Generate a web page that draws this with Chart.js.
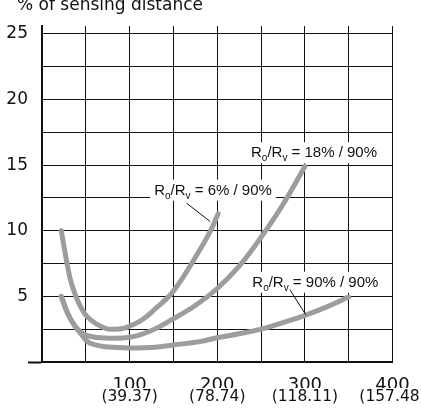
<!DOCTYPE html>
<html>
<head>
<meta charset="utf-8">
<script src="https://cdn.jsdelivr.net/npm/chart.js@4"></script>
<style>
  html, body { margin: 0; padding: 0; background: #fff; overflow: hidden; }
  #wrap { width: 421px; height: 412px; }
</style>
</head>
<body>
<div id="wrap"><canvas id="grafico"></canvas></div>
<script>
// curvas (x = distancia em mm, y = % da distancia de deteccao)
const curva6X = [22, 30, 34, 43, 53, 72, 85, 95, 114, 130, 150, 178, 192, 201];
const curva6Y = [10, 7.0, 5.9, 4.35, 3.35, 2.57, 2.5, 2.6, 3.2, 4.1, 5.4, 8.3, 9.95, 11.3];
const curva18X = [22, 30, 38, 45, 53, 72, 100, 125, 150, 175, 200, 225, 250, 275, 300];
const curva18Y = [5.0, 3.6, 2.7, 2.25, 1.98, 1.82, 1.88, 2.4, 3.3, 4.3, 5.6, 7.3, 9.5, 12.0, 14.9];
const curva90X = [22, 30, 38, 45, 52, 60, 72, 100, 125, 150, 180, 200, 225, 250, 275, 300, 325, 350];
const curva90Y = [5.0, 3.6, 2.7, 2.1, 1.55, 1.32, 1.17, 1.07, 1.1, 1.3, 1.55, 1.85, 2.15, 2.5, 3.0, 3.55, 4.2, 4.95];

// rotulos dos eixos
const xTicksMm = [100, 200, 300, 400];
const xTicksPol = ['(39.37)', '(78.74)', '(118.11)', '(157.48)'];
const yTicks = [5, 10, 15, 20, 25];
const titulo = '% of sensing distance';
const rotulos = ['6% / 90%', '18% / 90%', '90% / 90%'];

function pontos(xs, ys) {
  return xs.map((x, i) => ({ x: x, y: ys[i] }));
}

// posicao dos rotulos em coordenadas do grafico (inicio do texto, linha de base)
const anotacoes = [
  { texto: rotulos[0], x: 128, y: 12.75, guia: [[165, 12.1], [192, 10.7]] },
  { texto: rotulos[1], x: 238.5, y: 15.6, guia: null },
  { texto: rotulos[2], x: 240, y: 5.74, guia: [[283, 5.5], [301, 3.6]] }
];

function desenhaRotulo(ctx, px, py, texto) {
  const partes = [['R', 0], ['o', 1], ['/R', 0], ['v', 1], [' = ' + texto, 0]];
  const fonteN = '15px "Liberation Sans"';
  const fonteS = '10px "Liberation Sans"';
  let larg = 0;
  partes.forEach(([t, s]) => {
    ctx.font = s ? fonteS : fonteN;
    larg += ctx.measureText(t).width;
  });
  ctx.fillStyle = '#fff';
  ctx.fillRect(px - 4, py - 15, larg + 8, 21);
  ctx.fillStyle = '#111';
  let cx = px;
  partes.forEach(([t, s]) => {
    ctx.font = s ? fonteS : fonteN;
    ctx.fillText(t, cx, py + (s ? 4 : 0));
    cx += ctx.measureText(t).width;
  });
}

const pluginAnotacoes = {
  id: 'anotacoes',
  afterDatasetsDraw(chart) {
    const { ctx, scales: { x, y } } = chart;
    ctx.save();
    ctx.textBaseline = 'alphabetic';
    ctx.textAlign = 'left';
    ctx.fillStyle = '#111';
    ctx.font = '17px "DejaVu Sans"';
    ctx.fillText(titulo, 17, 10);

    anotacoes.forEach(a => {
      desenhaRotulo(ctx, x.getPixelForValue(a.x), y.getPixelForValue(a.y), a.texto);
    });
    ctx.strokeStyle = '#111';
    ctx.lineWidth = 1;
    anotacoes.forEach(a => {
      if (!a.guia) return;
      ctx.beginPath();
      ctx.moveTo(x.getPixelForValue(a.guia[0][0]), y.getPixelForValue(a.guia[0][1]));
      ctx.lineTo(x.getPixelForValue(a.guia[1][0]), y.getPixelForValue(a.guia[1][1]));
      ctx.stroke();
    });
    ctx.restore();
  }
};

const ctx = document.getElementById('grafico').getContext('2d');
new Chart(ctx, {
  type: 'line',
  data: {
    datasets: [
      { label: 'Ro/Rv = 6% / 90%', data: pontos(curva6X, curva6Y) },
      { label: 'Ro/Rv = 18% / 90%', data: pontos(curva18X, curva18Y) },
      { label: 'Ro/Rv = 90% / 90%', data: pontos(curva90X, curva90Y) }
    ]
  },
  options: {
    responsive: true,
    maintainAspectRatio: false,
    animation: false,
    layout: { padding: { top: 26, right: 28.5, left: 0, bottom: 0 } },
    plugins: { legend: { display: false }, tooltip: { enabled: false } },
    elements: {
      point: { radius: 0 },
      line: {
        borderColor: '#9d9d9d',
        borderWidth: 5,
        tension: 0.4,
        borderCapStyle: 'round',
        borderJoinStyle: 'round',
        fill: false
      }
    },
    scales: {
      x: {
        type: 'linear',
        min: 0,
        max: 400,
        weight: 0,
        grid: { color: '#111', lineWidth: 1, drawTicks: false },
        border: { color: '#111', width: 2 },
        ticks: {
          stepSize: 50,
          autoSkip: false,
          maxRotation: 0,
          padding: 14,
          color: '#111',
          font: { family: 'DejaVu Sans', size: 18, lineHeight: 1 },
          callback: v => (xTicksMm.includes(v) ? String(v) : '')
        },
        afterFit: s => { s.height = 26; s.paddingLeft = 0; s.paddingRight = 0; }
      },
      x2: {
        type: 'linear',
        position: 'bottom',
        min: 0,
        max: 400,
        weight: 1,
        grid: { display: false, drawTicks: false },
        border: { display: false },
        ticks: {
          stepSize: 50,
          autoSkip: false,
          maxRotation: 0,
          padding: 1,
          color: '#111',
          font: { family: 'DejaVu Sans', size: 15.5, lineHeight: 1 },
          callback: v => {
            const i = xTicksMm.indexOf(v);
            return i >= 0 ? xTicksPol[i] : '';
          }
        },
        afterFit: s => { s.height = 24; s.paddingLeft = 0; s.paddingRight = 0; }
      },
      y: {
        min: 0,
        max: 25.6,
        grid: {
          color: '#111',
          lineWidth: 1,
          drawTicks: true,
          tickLength: 14,
          tickWidth: 2,
          tickColor: c => (c.tick && c.tick.value === 0 ? '#111' : 'rgba(0,0,0,0)')
        },
        border: { color: '#111', width: 2 },
        ticks: {
          stepSize: 2.5,
          includeBounds: false,
          padding: 0,
          color: '#111',
          font: { family: 'DejaVu Sans', size: 17 },
          callback: v => (yTicks.some(t => Math.abs(t - v) < 1e-6) ? String(v) : '')
        },
        afterFit: s => { s.width = 42; s.paddingTop = 0; s.paddingBottom = 0; }
      }
    }
  },
  plugins: [pluginAnotacoes]
});
</script>
</body>
</html>
